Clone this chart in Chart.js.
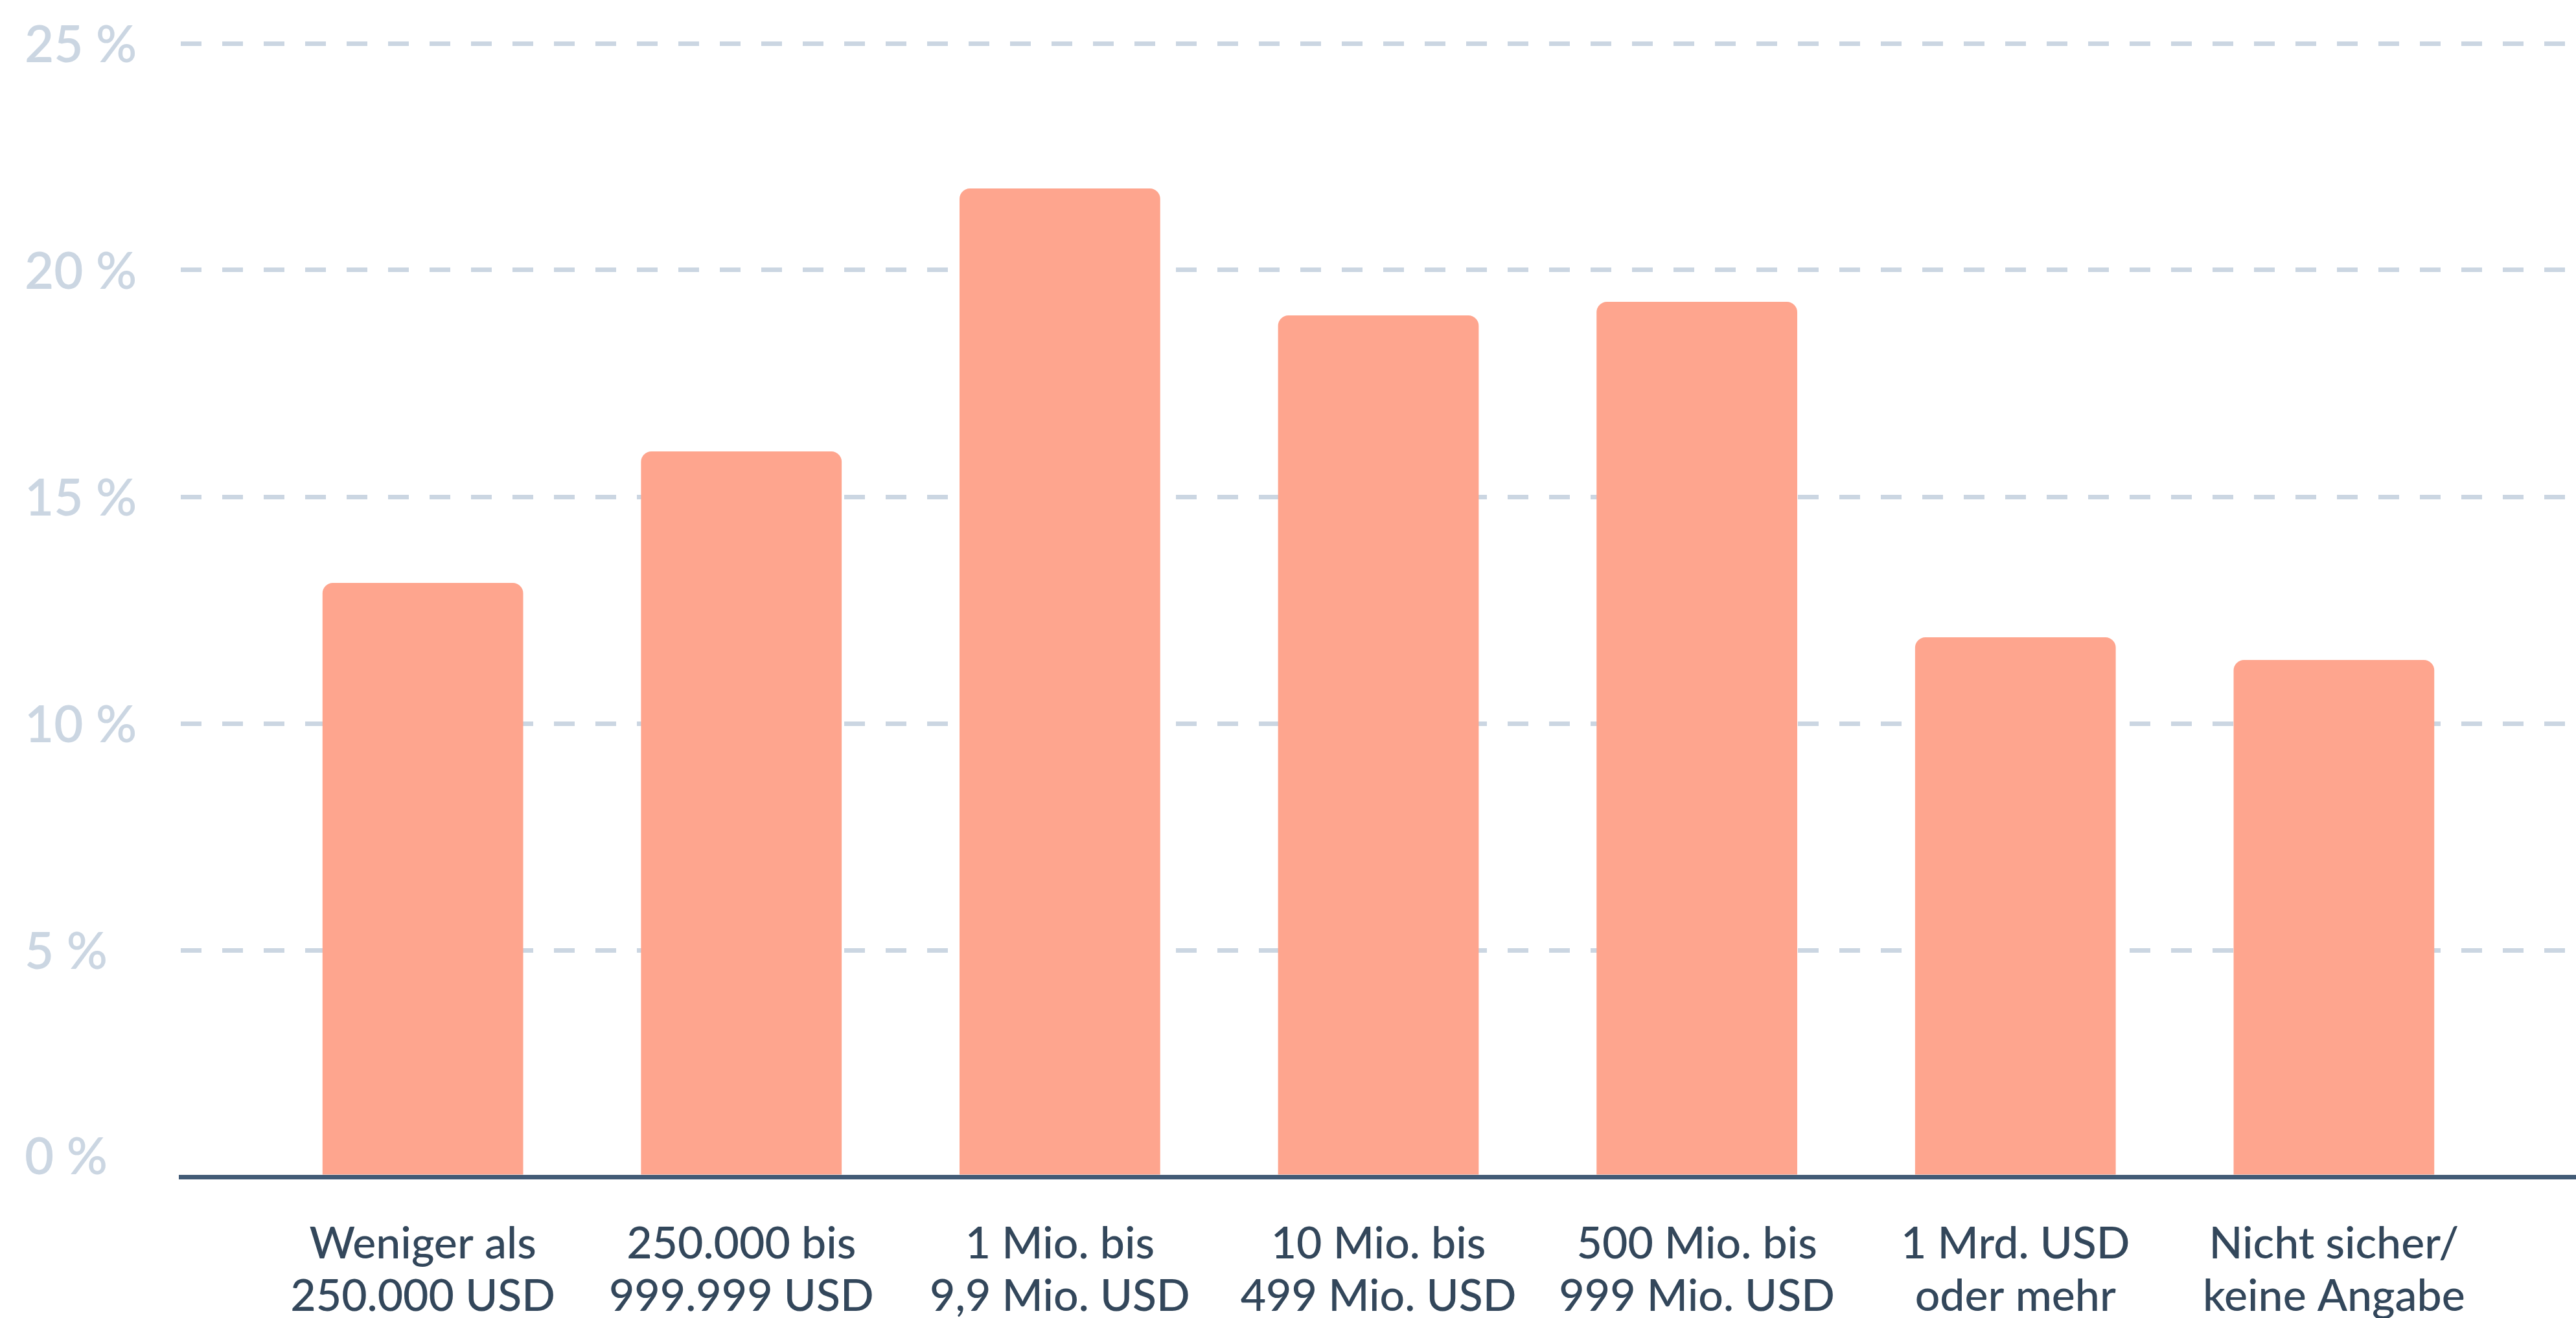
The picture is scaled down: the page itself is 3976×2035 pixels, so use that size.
<!DOCTYPE html>
<html lang="de">
<head>
  <meta charset="UTF-8">
  <title>Umsatz nach Unternehmensgröße</title>
  <style>
    body {
      margin: 0;
      padding: 0;
      background: #ffffff;
    }
    .wrap {
      width: 3976px;
      height: 2035px;
    }
  </style>
</head>
<body>
  <div class="wrap">
    <canvas id="revenueChart"></canvas>
  </div>

  <script src="https://cdn.jsdelivr.net/npm/chart.js"></script>
  <script>
    // Umsatzklassen (zweizeilige Beschriftung) und Anteile in Prozent
    const categories = [
      ['Weniger als', '250.000 USD'],
      ['250.000 bis', '999.999 USD'],
      ['1 Mio. bis', '9,9 Mio. USD'],
      ['10 Mio. bis', '499 Mio. USD'],
      ['500 Mio. bis', '999 Mio. USD'],
      ['1 Mrd. USD', 'oder mehr'],
      ['Nicht sicher/', 'keine Angabe']
    ];
    const shares = [13.1, 16.0, 21.8, 19.0, 19.3, 11.9, 11.4];
    const yTicks = [0, 5, 10, 15, 20, 25];

    const ctx = document.getElementById('revenueChart').getContext('2d');
    new Chart(ctx, {
      type: 'bar',
      data: {
        datasets: [{
          data: shares.map((v, i) => ({ x: i, y: v })),
          backgroundColor: '#fea58e',
          borderWidth: 0,
          borderRadius: { topLeft: 16, topRight: 16 },
          borderSkipped: 'bottom',
          categoryPercentage: 1,
          barPercentage: 0.63
        }]
      },
      options: {
        responsive: true,
        maintainAspectRatio: false,
        animation: false,
        devicePixelRatio: 1,
        layout: {
          padding: { top: 67, left: 38, right: 0, bottom: 0 }
        },
        plugins: {
          legend: { display: false },
          tooltip: { enabled: false }
        },
        scales: {
          x: {
            type: 'linear',
            offset: false,
            min: -0.76,
            max: categories.length - 1 + 0.76,
            grid: { display: false, drawTicks: false },
            border: { display: true, color: '#425b76', width: 7, z: 1 },
            afterBuildTicks: axis => {
              axis.ticks = categories.map((c, i) => ({ value: i }));
            },
            afterFit: axis => { axis.height = 218; },
            ticks: {
              autoSkip: false,
              maxRotation: 0,
              padding: 64,
              color: '#33475b',
              font: { family: 'Lato', size: 68, weight: 500, lineHeight: 1.19 },
              callback: value => categories[value]
            }
          },
          y: {
            min: 0,
            max: 25,
            afterBuildTicks: axis => {
              axis.ticks = yTicks.map(v => ({ value: v }));
            },
            afterFit: axis => { axis.width = 241; },
            grid: {
              drawTicks: false,
              lineWidth: 7,
              color: c => (c.tick && c.tick.value === 0) ? 'rgba(0,0,0,0)' : '#cbd6e2'
            },
            border: { display: false, dash: [32, 32] },
            ticks: {
              crossAlign: 'far',
              padding: 0,
              labelOffset: 4,
              color: '#cbd6e2',
              // the "0 %" label sits above the axis line: an empty second line lifts it
              font: c => ({
                family: 'Lato',
                size: 78,
                weight: 600,
                lineHeight: (c.tick && c.tick.value === 0) ? 0.85 : 1.2
              }),
              callback: value => value === 0 ? ['0 %', ''] : value + ' %'
            }
          }
        }
      }
    });
  </script>
</body>
</html>
